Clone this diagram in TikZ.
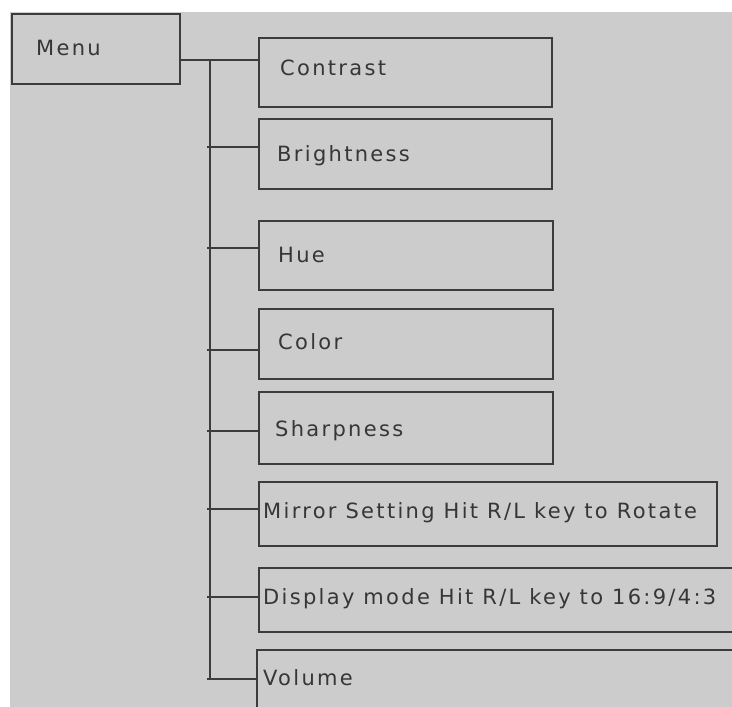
\documentclass[tikz,border=0pt]{standalone}
\usepackage{xcolor}
\usepackage{fontspec}
\usepackage{tikz}
\usetikzlibrary{positioning,calc}
\newfontfamily\itemfont[LetterSpace=11]{DejaVu Sans}
\definecolor{bgray}{HTML}{CCCCCC}
\definecolor{lgray}{HTML}{3C3C3C}
\definecolor{tgray}{HTML}{363636}
\begin{document}
\begin{tikzpicture}[x=1pt,y=-1pt,
  box/.style={draw=lgray,line width=1.5pt,anchor=north west,inner sep=0pt},
  txt/.style={anchor=west,inner sep=0pt,text height=15pt,text depth=0pt,
    text=tgray,font=\itemfont\fontsize{21}{24}\selectfont},
  ln/.style={draw=lgray,line width=1.5pt}]
\clip (0,0) rectangle (732,707);
\fill[white] (0,0) rectangle (732,707);
\fill[bgray] (10,12) rectangle (732,707);
% boxes
\node[box,minimum width=168pt,minimum height=70pt] (menu) at (11,13) {};
\node[box,minimum width=293pt,minimum height=69pt] (contrast) at (258,37) {};
\node[box,minimum width=293pt,minimum height=70pt] (bright) at (258,118) {};
\node[box,minimum width=294pt,minimum height=69pt] (hue) at (258,220) {};
\node[box,minimum width=294pt,minimum height=70pt] (color) at (258,308) {};
\node[box,minimum width=294pt,minimum height=72pt] (sharp) at (258,391) {};
\node[box,minimum width=458pt,minimum height=64pt] (mirror) at (258,481) {};
\node[box,minimum width=520pt,minimum height=64pt] (disp) at (258,567) {};
\node[box,minimum width=520pt,minimum height=90pt] (vol) at (256,649) {};
% labels
\node[txt] (menu-l) at (36,48) {Menu};
\node[txt] (contrast-l) at (280,68) {Contrast};
\node[txt] (bright-l) at (277,154) {Brightness};
\node[txt] (hue-l) at (278,255) {Hue};
\node[txt] (color-l) at (278,342) {Color};
\node[txt] (sharp-l) at (275,429) {Sharpness};
\node[txt] (mirror-l) at (263,511) {Mirror Setting Hit R/L key to Rotate};
\node[txt] (disp-l) at (263,597) {Display mode Hit R/L key to 16:9/4:3};
\node[txt] (vol-l) at (263,678) {Volume};
% tree
\coordinate (j0) at (210,60);
\coordinate (jv) at (210,679);
\draw[ln] (menu.east |- j0) -- (j0) -- (jv);
\foreach \n/\y in {contrast/60,bright/147,hue/248,color/350,sharp/431,mirror/509,disp/597,vol/679}
  \draw[ln] (207,\y) -- (\n.west |- 0,\y);
\end{tikzpicture}
\end{document}
